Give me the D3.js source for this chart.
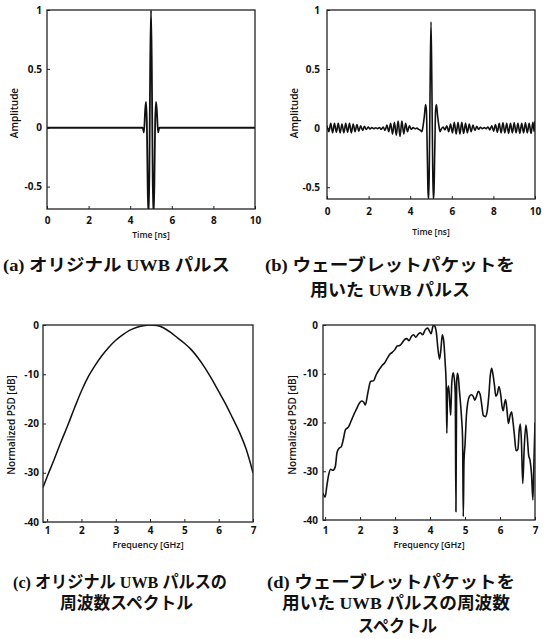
<!DOCTYPE html>
<html><head><meta charset="utf-8">
<script src="https://cdn.jsdelivr.net/npm/d3@7"></script>
<style>
html,body{margin:0;padding:0;background:#fff;}
svg{display:block;}
.tick text{font-family:"Open Sans","Liberation Sans",sans-serif;font-weight:700;font-size:10px;fill:#111;}
.axlab{font-family:"Open Sans","Liberation Sans",sans-serif;font-weight:600;fill:#111;}
.cap{font-family:"Liberation Serif","Noto Sans CJK JP",serif;font-weight:700;font-size:17px;fill:#111;}
</style></head>
<body>
<svg id="chart" width="557" height="639"></svg>
<script>
// ---------- DATA ----------
const timeTicks = [0, 2, 4, 6, 8, 10];
const ampTicks = [-0.5, 0, 0.5, 1];
const freqTicks = [1, 2, 3, 4, 5, 6, 7];
const psdTicks = [0, -10, -20, -30, -40];

// (a) original UWB pulse: [time ns, amplitude]
const pulseA = [
  [0,0],[4.5,0],[4.6,0.0],[4.66,-0.04],[4.72,0.15],[4.76,0.22],[4.8,0.05],[4.84,-0.5],[4.88,-0.75],
  [4.92,-0.4],[4.96,0.5],[5.0,1.0],[5.04,0.5],[5.08,-0.4],[5.12,-0.75],[5.16,-0.5],[5.2,0.05],
  [5.24,0.22],[5.28,0.15],[5.34,-0.04],[5.4,0.0],[10,0]
];

// (b) UWB pulse using wavelet packets: [time ns, amplitude]
const pulseB = [
  [0.00,0.02],[0.09,-0.03],[0.18,0.04],[0.27,-0.04],[0.36,0.04],[0.45,-0.035],[0.54,0.04],[0.63,-0.04],
  [0.72,0.035],[0.81,-0.04],[0.90,0.04],[0.99,-0.035],[1.08,0.04],[1.17,-0.04],[1.26,0.035],[1.35,-0.03],
  [1.44,0.03],[1.53,-0.025],[1.62,0.02],[1.71,-0.02],[1.80,0.015],[1.89,-0.012],[1.98,0.01],[2.07,-0.008],
  [2.16,0.005],[2.25,-0.005],[2.34,0.003],[2.43,-0.004],[2.52,0.005],[2.61,-0.01],[2.70,0.01],[2.79,-0.02],
  [2.88,0.025],[2.97,-0.03],[3.06,0.04],[3.15,-0.05],[3.24,0.05],[3.33,-0.06],[3.42,0.06],[3.51,-0.07],
  [3.60,0.06],[3.69,-0.05],[3.78,0.04],[3.87,-0.03],[3.96,0.02],[4.05,-0.01],[4.14,0.005],[4.23,-0.005],
  [4.32,0.0],[4.41,-0.01],[4.50,-0.02],[4.56,-0.03],[4.62,0.02],[4.68,0.1],[4.74,0.2],[4.78,0.15],
  [4.82,-0.2],[4.86,-0.55],[4.89,-0.6],[4.92,-0.3],[4.96,0.4],[5.0,0.9],[5.04,0.4],[5.08,-0.3],
  [5.11,-0.6],[5.14,-0.55],[5.18,-0.2],[5.22,0.15],[5.26,0.2],[5.32,0.1],[5.38,0.02],[5.44,-0.03],
  [5.49,-0.01],[5.58,0.01],[5.67,-0.015],[5.76,0.02],[5.85,-0.03],[5.94,0.035],[6.03,-0.04],[6.12,0.05],
  [6.21,-0.05],[6.30,0.05],[6.39,-0.05],[6.48,0.05],[6.57,-0.045],[6.66,0.04],[6.75,-0.04],[6.84,0.035],
  [6.93,-0.03],[7.02,0.025],[7.11,-0.02],[7.20,0.015],[7.29,-0.01],[7.38,0.008],[7.47,-0.005],[7.56,0.004],
  [7.65,-0.005],[7.74,0.01],[7.83,-0.015],[7.92,0.02],[8.01,-0.025],[8.10,0.03],[8.19,-0.035],[8.28,0.04],
  [8.37,-0.04],[8.46,0.045],[8.55,-0.04],[8.64,0.04],[8.73,-0.045],[8.82,0.04],[8.91,-0.04],[9.00,0.045],
  [9.09,-0.04],[9.18,0.04],[9.27,-0.045],[9.36,0.04],[9.45,-0.04],[9.54,0.045],[9.63,-0.04],[9.72,0.04],
  [9.81,-0.045],[9.90,0.05],[9.96,-0.03],[10.0,0.06]
];

// (c) spectrum of original pulse: [GHz, dB]
const psdC = [
  [0.88,-33],[1.0,-30.8],[1.2,-27.4],[1.4,-23.8],[1.6,-20.4],[1.8,-16.8],[2.0,-13.4],[2.2,-10.5],
  [2.4,-8.2],[2.6,-6.2],[2.8,-4.5],[3.0,-3.1],[3.2,-2.0],[3.4,-1.1],[3.6,-0.5],[3.8,-0.15],[4.0,0],
  [4.2,-0.1],[4.4,-0.6],[4.6,-1.5],[4.8,-2.6],[5.0,-3.7],[5.2,-5.0],[5.4,-6.7],[5.6,-8.7],[5.8,-11.0],
  [6.0,-13.5],[6.2,-16.0],[6.4,-18.8],[6.6,-21.7],[6.8,-25.2],[7.0,-30]
];

// (d) spectrum of wavelet packet pulse: [GHz, dB]
const psdD = [
  [0.94,-34.5],[1.0,-35.3],[1.05,-33],[1.1,-30.8],[1.16,-29.6],[1.22,-29.8],[1.29,-29.1],[1.34,-26.2],
  [1.40,-25.3],[1.46,-25.0],[1.52,-23.5],[1.58,-21.5],[1.67,-20.9],[1.75,-19.6],[1.82,-18.4],[1.90,-17.2],
  [1.96,-16.3],[2.04,-15.6],[2.1,-15.8],[2.15,-16.4],[2.22,-14.0],[2.3,-11.6],[2.39,-11.4],[2.46,-10.2],
  [2.54,-9.2],[2.63,-8.3],[2.70,-7.8],[2.78,-6.8],[2.85,-6.0],[2.92,-5.6],[3.0,-5.0],[3.06,-4.3],
  [3.13,-4.2],[3.21,-3.6],[3.27,-3.0],[3.33,-2.8],[3.40,-3.2],[3.47,-2.3],[3.53,-2.0],[3.59,-2.5],
  [3.66,-1.9],[3.72,-1.6],[3.79,-2.0],[3.86,-1.0],[3.93,-0.6],[3.98,-1.2],[4.03,-1.8],[4.08,-0.3],
  [4.10,0],[4.14,-0.3],[4.18,-1.5],[4.22,-4.5],[4.27,-7.0],[4.31,-5.0],[4.35,-2.0],[4.39,-3.2],
  [4.43,-7.5],[4.46,-12],[4.48,-22.2],[4.50,-13.5],[4.53,-12.5],[4.56,-15.5],[4.59,-18.5],[4.62,-12],
  [4.66,-9.8],[4.70,-11.5],[4.72,-14],[4.74,-38.3],[4.76,-12],[4.78,-9.9],[4.81,-10.8],[4.84,-13.5],
  [4.87,-16],[4.90,-19],[4.93,-23.3],[4.95,-39.3],[4.97,-28],[5.0,-24.5],[5.04,-18.5],[5.08,-15.8],
  [5.13,-14.6],[5.18,-14.3],[5.23,-14.6],[5.28,-15.4],[5.33,-14.6],[5.38,-13.6],[5.43,-14.2],[5.48,-16.5],
  [5.52,-18.5],[5.58,-18.8],[5.63,-17.8],[5.68,-14.5],[5.72,-10.5],[5.76,-8.9],[5.80,-10.2],[5.84,-12.3],
  [5.88,-14.6],[5.92,-14.2],[5.97,-12.6],[6.02,-14.3],[6.06,-16.8],[6.09,-17.6],[6.13,-16.0],[6.16,-15.3],
  [6.20,-17.5],[6.24,-20.2],[6.29,-18.5],[6.33,-17.8],[6.37,-19.8],[6.41,-22.5],[6.46,-25.8],[6.51,-25.5],
  [6.55,-21.5],[6.58,-20.3],[6.61,-23.5],[6.65,-32.5],[6.69,-25.5],[6.74,-20.5],[6.78,-23],[6.82,-26.8],
  [6.86,-27.8],[6.90,-30.5],[6.94,-35.9],[6.97,-28],[7.0,-20]
];

const captions = {
  a: ["(a) オリジナル UWB パルス"],
  b: ["(b) ウェーブレットパケットを", "用いた UWB パルス"],
  c: ["(c) オリジナル UWB パルスの", "周波数スペクトル"],
  d: ["(d) ウェーブレットパケットを", "用いた UWB パルスの周波数", "スペクトル"]
};

// ---------- DRAW ----------
const svg = d3.select("#chart");

function panel(o) {
  const g = svg.append("g").attr("transform", `translate(${o.left},${o.top})`);
  const w = o.right - o.left, h = o.bottom - o.top;
  const x = d3.scaleLinear().domain(o.xDomain).range([0, w]);
  const y = d3.scaleLinear().domain(o.yDomain).range([h, 0]);

  const clipId = "clip-" + o.id;
  g.append("clipPath").attr("id", clipId).append("rect").attr("width", w).attr("height", h);

  const xa = g.append("g").attr("transform", `translate(0,${h})`)
    .call(d3.axisBottom(x).tickValues(o.xTicks).tickSizeInner(-3).tickSizeOuter(0)
      .tickPadding(o.xPad).tickFormat(d3.format("d")));
  const ya = g.append("g")
    .call(d3.axisLeft(y).tickValues(o.yTicks).tickSizeInner(-3).tickSizeOuter(0)
      .tickPadding(o.yPad).tickFormat(o.yFmt));
  [xa, ya].forEach(a => {
    a.select(".domain").remove();
    a.selectAll(".tick line").attr("stroke", "#222").attr("stroke-width", 1);
    a.selectAll(".tick text").text(function(){ return this.textContent.replace("−", "-"); });
  });

  g.append("path").datum(o.data)
    .attr("clip-path", `url(#${clipId})`)
    .attr("fill", "none").attr("stroke", "#111").attr("stroke-width", o.lw)
    .attr("stroke-linejoin", "round")
    .attr("d", d3.line().x(d => x(d[0])).y(d => y(d[1])).curve(d3.curveMonotoneX));

  g.append("rect").attr("width", w).attr("height", h)
    .attr("fill", "none").attr("stroke", "#222").attr("stroke-width", 1.3);

  g.append("text").attr("class", "axlab").attr("font-size", o.xlabSize)
    .attr("x", w / 2).attr("y", o.xlabY - o.top).attr("text-anchor", "middle")
    .attr("dominant-baseline", "middle").text(o.xlab);
  g.append("text").attr("class", "axlab").attr("font-size", 10)
    .attr("transform", `translate(${o.ylabX - o.left},${o.ylabY - o.top}) rotate(-90)`)
    .attr("text-anchor", "middle").attr("dominant-baseline", "middle").text(o.ylab);
}

const ampFmt = d => d === 0 ? "0" : d === 1 ? "1" : d3.format(".1f")(d).replace("−", "-");
const psdFmt = d => String(d);

panel({id:"a", left:47, right:255, top:10, bottom:209, xDomain:[0,10], yDomain:[-0.69,1],
  xTicks:timeTicks, yTicks:ampTicks, xPad:8, yPad:5, yFmt:ampFmt, data:pulseA, lw:1.8,
  xlab:"Time [ns]", xlabY:236, xlabSize:8.5, ylab:"Amplitude", ylabX:15, ylabY:113});
panel({id:"b", left:327, right:535, top:10, bottom:199, xDomain:[0,10], yDomain:[-0.6,1],
  xTicks:timeTicks, yTicks:ampTicks, xPad:9, yPad:7, yFmt:ampFmt, data:pulseB, lw:1.6,
  xlab:"Time [ns]", xlabY:233, xlabSize:8.5, ylab:"Amplitude", ylabX:295, ylabY:113});
panel({id:"c", left:43, right:253, top:325, bottom:522, xDomain:[0.88,7], yDomain:[-40,0],
  xTicks:freqTicks, yTicks:psdTicks, xPad:5, yPad:4, yFmt:psdFmt, data:psdC, lw:1.5,
  xlab:"Frequency [GHz]", xlabY:546, xlabSize:9, ylab:"Normalized PSD [dB]", ylabX:12, ylabY:425});
panel({id:"d", left:323, right:535, top:325, bottom:520, xDomain:[0.94,7], yDomain:[-40,0],
  xTicks:freqTicks, yTicks:psdTicks, xPad:7, yPad:5, yFmt:psdFmt, data:psdD, lw:1.6,
  xlab:"Frequency [GHz]", xlabY:546, xlabSize:9, ylab:"Normalized PSD [dB]", ylabX:293, ylabY:425});

// captions: [lines, x-start, x-end, baseline y]
const capLayout = [
  [captions.a[0], 3, 230, 271],
  [captions.b[0], 265, 515, 271],
  [captions.b[1], 310, 470, 296],
  [captions.c[0], 13, 227, 588],
  [captions.c[1], 60, 193, 609],
  [captions.d[0], 267, 515, 588],
  [captions.d[1], 282, 510, 609],
  [captions.d[2], 358, 437, 632]
];
capLayout.forEach(([t, x0, x1, yb]) => {
  svg.append("text").attr("class", "cap").attr("x", x0).attr("y", yb)
    .attr("textLength", x1 - x0).attr("lengthAdjust", "spacingAndGlyphs").text(t);
});
</script>
</body></html>
